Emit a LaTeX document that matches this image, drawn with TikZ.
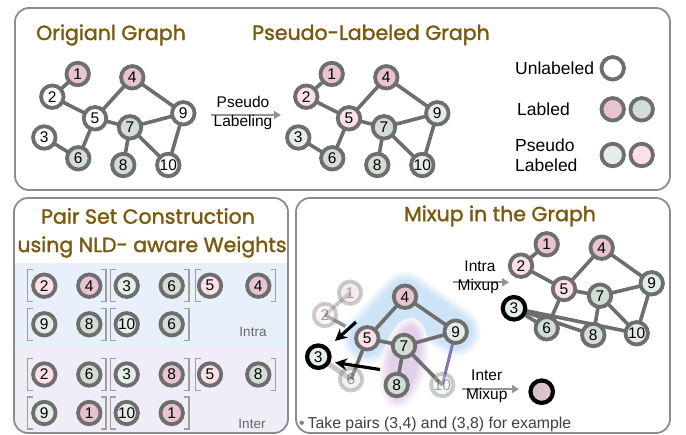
\documentclass[tikz,border=0pt]{standalone}
\usepackage{fontspec}
\setmainfont{Liberation Sans}
\newfontfamily\titlefont[FakeBold=1.6]{Poppins}
\usetikzlibrary{arrows.meta,calc}
\definecolor{nodeborder}{HTML}{6E6E6E}
\definecolor{lpink}{HTML}{E8C3D0}
\definecolor{lgreen}{HTML}{D2DDD5}
\definecolor{ppink}{HTML}{FBE0E7}
\definecolor{pgreen}{HTML}{E4EEE8}
\definecolor{titlebrown}{HTML}{7A5A0E}
\definecolor{panelborder}{HTML}{8C8C8C}
\definecolor{bluebg}{HTML}{E8F1FB}
\definecolor{purplebg}{HTML}{F0EDF8}
\definecolor{edgepurple}{HTML}{8B72B8}
\tikzset{
  gn/.style={circle, draw=nodeborder, line width=3.8pt, minimum size=22.5pt, inner sep=0pt,
    fill=white, text=black, font=\fontsize{15.5}{15.5}\selectfont},
  un/.style={gn},
  lp/.style={gn, fill=lpink},
  lg/.style={gn, fill=lgreen},
  pp/.style={gn, fill=ppink},
  pg/.style={gn, fill=pgreen},
  faded/.style={opacity=0.35},
  bold/.style={draw=black, line width=4.2pt},
  ge/.style={draw=nodeborder, line width=3.6pt},
  panel/.style={draw=panelborder, line width=1.8pt, rounded corners=14pt},
  ttl/.style={text=titlebrown, font=\titlefont\fontsize{20.5}{20.5}\selectfont, inner sep=0pt},
  lbl/.style={font=\fontsize{15.5}{15.5}\selectfont, inner sep=0pt},
  leg/.style={font=\fontsize{17.5}{17.5}\selectfont, inner sep=0pt, anchor=west},
  grayarrow/.style={draw=gray!85, line width=2pt, -{Triangle[length=7pt,width=8pt]}},
  blackarrow/.style={draw=black, line width=3.2pt, -{Stealth[length=12pt,width=12pt]}},
  bracket/.style={draw=gray!75, line width=1.4pt},
  smalllbl/.style={text=black!60, font=\fontsize{13.5}{13.5}\selectfont, inner sep=0pt},
  blob/.style={line cap=round, line join=round}
}
\begin{document}
\begin{tikzpicture}[x=1pt,y=-1pt]
\useasboundingbox (0,0) rectangle (686,435);
% ---------- panels ----------
\fill[white] (0,0) rectangle (686,435);
\draw[panel, fill=white] (15,8) rectangle (670,190);
\begin{scope}
  \clip[rounded corners=14pt] (14,198) rectangle (288,433);
  \fill[white] (14,198) rectangle (288,263);
  \fill[bluebg] (14,263) rectangle (288,348);
  \fill[purplebg] (14,348) rectangle (288,433);
\end{scope}
\draw[panel] (14,198) rectangle (288,433);
\draw[panel, fill=white] (296,198) rectangle (670,433);

% ---------- titles ----------
\node[ttl] (t1) at (111,35) {Origianl Graph};
\node[ttl] (t2) at (371,35) {Pseudo-Labeled Graph};
\node[ttl] (t3) at (148,216) {Pair Set Construction};
\node[ttl] (t4) at (152,247) {using NLD- aware Weights};
\node[ttl] (t5) at (500,216) {Mixup in the Graph};

% ---------- original graph ----------
\coordinate (ca1) at (77.7,74);
\coordinate (ca2) at (52.3,96.7);
\coordinate (ca3) at (44.3,137.5);
\coordinate (ca4) at (132.3,77.3);
\coordinate (ca5) at (95,118.3);
\coordinate (ca6) at (78.3,158.3);
\coordinate (ca7) at (130,127.3);
\coordinate (ca8) at (123.3,165);
\coordinate (ca9) at (183.3,113.3);
\coordinate (ca10) at (168.3,165);
\foreach \u/\v in {1/2,2/5,5/4,4/9,5/7,7/9,5/6,3/6,7/8,7/10,9/10}
  \draw[ge] (ca\u) -- (ca\v);
\node[lp] (a1) at (ca1) {1};
\node[un] (a2) at (ca2) {2};
\node[un] (a3) at (ca3) {3};
\node[lp] (a4) at (ca4) {4};
\node[un] (a5) at (ca5) {5};
\node[lg] (a6) at (ca6) {6};
\node[lg] (a7) at (ca7) {7};
\node[lg] (a8) at (ca8) {8};
\node[un] (a9) at (ca9) {9};
\node[un] (a10) at (ca10) {10};

% ---------- pseudo-labeled graph ----------
\coordinate (cb1) at (331.7,74);
\coordinate (cb2) at (306.3,96.7);
\coordinate (cb3) at (298.3,137.5);
\coordinate (cb4) at (386.3,77.3);
\coordinate (cb5) at (349,118.3);
\coordinate (cb6) at (332.3,158.3);
\coordinate (cb7) at (384,127.3);
\coordinate (cb8) at (377.3,165);
\coordinate (cb9) at (437.3,113.3);
\coordinate (cb10) at (422.3,165);
\foreach \u/\v in {1/2,2/5,5/4,4/9,5/7,7/9,5/6,3/6,7/8,7/10,9/10}
  \draw[ge] (cb\u) -- (cb\v);
\node[lp] (b1) at (cb1) {1};
\node[pp] (b2) at (cb2) {2};
\node[pg] (b3) at (cb3) {3};
\node[lp] (b4) at (cb4) {4};
\node[pp] (b5) at (cb5) {5};
\node[lg] (b6) at (cb6) {6};
\node[lg] (b7) at (cb7) {7};
\node[lg] (b8) at (cb8) {8};
\node[pg] (b9) at (cb9) {9};
\node[pg] (b10) at (cb10) {10};

% ---------- pseudo labeling arrow ----------
\coordinate (pl1) at (210.5,115);
\coordinate (pl2) at (281,115);
\draw[grayarrow] (pl1) -- (pl2);
\node[lbl] (plt1) at (243,102) {Pseudo};
\node[lbl] (plt2) at (243,122) {Labeling};

% ---------- legend ----------
\node[leg] (lg1) at (515,68) {Unlabeled};
\node[leg] (lg2) at (517,109) {Labled};
\node[leg] (lg3) at (515,145.5) {Pseudo};
\node[leg] (lg4) at (515,165.5) {Labeled};
\node[un] (lc1) at (612.7,68.3) {};
\node[lp] (lc2) at (612.7,109.3) {};
\node[lg] (lc3) at (641.7,109.3) {};
\node[pg] (lc4) at (612.7,155) {};
\node[pp] (lc5) at (641.7,155) {};

% ---------- pair set ----------
\node[pp] (p11) at (44.3,285.7) {2};
\node[lp] (p12) at (89.3,285.7) {4};
\node[pg] (p13) at (126.7,285.7) {3};
\node[lg] (p14) at (171.7,285.7) {6};
\node[pp] (p15) at (210,285.7) {5};
\node[lp] (p16) at (258.3,285.7) {4};
\node[pg] (p21) at (44.3,324.3) {9};
\node[lg] (p22) at (89.3,324.3) {8};
\node[pg] (p23) at (126.7,324.3) {10};
\node[lg] (p24) at (171.7,324.3) {6};
\node[smalllbl] (intra) at (253,332) {Intra};
\node[pp] (p31) at (44.3,374.5) {2};
\node[lg] (p32) at (89.3,374.5) {6};
\node[pg] (p33) at (126.7,374.5) {3};
\node[lp] (p34) at (171.7,374.5) {8};
\node[pp] (p35) at (210,374.5) {5};
\node[lg] (p36) at (258.3,374.5) {8};
\node[pg] (p41) at (44.3,413) {9};
\node[lp] (p42) at (89.3,413) {1};
\node[pg] (p43) at (126.7,413) {10};
\node[lp] (p44) at (171.7,413) {1};
\node[smalllbl] (inter) at (252,424) {Inter};
\foreach \y in {285.7,324.3,374.5,413} {
  \foreach \l/\r in {27.5/106,110.5/189} {
    \draw[bracket] (\l+5,\y-16) -- (\l,\y-16) -- (\l,\y+16) -- (\l+5,\y+16);
    \draw[bracket] (\r-5,\y-16) -- (\r,\y-16) -- (\r,\y+16) -- (\r-5,\y+16);
  }
}
\foreach \y in {285.7,374.5} {
  \draw[bracket] (200.5,\y-16) -- (195.5,\y-16) -- (195.5,\y+16) -- (200.5,\y+16);
  \draw[bracket] (270.5,\y-16) -- (275.5,\y-16) -- (275.5,\y+16) -- (270.5,\y+16);
}

% ---------- mixup: left graph ----------
\coordinate (m1) at (350,292.7);
\coordinate (m2) at (325,315);
\coordinate (m4) at (405,296.7);
\coordinate (m5) at (367.3,338.3);
\coordinate (m9) at (455.7,331.7);
\coordinate (m7) at (404,346);
\coordinate (m3) at (318.3,356.7);
\coordinate (m6) at (351,379.3);
\coordinate (m8) at (396.7,385);
\coordinate (m10) at (442.3,385);
% faded edges
\draw[ge, opacity=0.4] (m1) -- (m2);
\draw[ge, opacity=0.75] (m2) -- (m5);
\draw[ge, opacity=0.4, line width=5pt] (m3) -- (m6);
% blobs (soft edges by layering)
\foreach \w/\c in {50/F3F8FD,46/EAF3FB,42/E0EDF9,38/D6E7F7,34/CFE3F6} {
  \definecolor{blobtmp}{HTML}{\c}
  \draw[blob, line width=\w pt, draw=blobtmp] (m5) -- (m4) -- (m9);
}
\foreach \a/\b/\c in {23/46/F8F2FA,20/43/F0E6F4,17/40/E8DAEE,14/37/E2D0EA} {
  \definecolor{blobtmp}{HTML}{\c}
  \fill[blobtmp, rotate around={-12:(404,363)}] (404,363) ellipse [x radius=\a pt, y radius=\b pt];
}
% edges
\foreach \u/\v in {5/4,4/9,5/7,7/9,7/8,7/10,5/6}
  \draw[ge] (m\u) -- (m\v);
\draw[draw=edgepurple, line width=3pt] (m9) -- (m10);
% nodes
\node[lp, faded] (n1) at (m1) {1};
\node[pp, faded] (n2) at (m2) {2};
\node[lp] (n4) at (m4) {4};
\node[pp] (n5) at (m5) {5};
\node[pg] (n9) at (m9) {9};
\node[lg] (n7) at (m7) {7};
\node[pg, bold] (n3) at (m3) {3};
\node[lg, faded] (n6) at (m6) {6};
\node[lg] (n8) at (m8) {8};
\node[pg, faded] (n10) at (m10) {10};
% black arrows
\coordinate (k1s) at (356,322);
\coordinate (k1e) at (335,341);
\coordinate (k2s) at (380,369.5);
\coordinate (k2e) at (335,362.5);
\draw[blackarrow] (k1s) -- (k1e);
\draw[blackarrow] (k2s) -- (k2e);

% ---------- mixup arrows ----------
\coordinate (ia1) at (452.7,282.3);
\coordinate (ia2) at (509,282.3);
\draw[grayarrow] (ia1) -- (ia2);
\node[lbl] (it1) at (480,266.7) {Intra};
\node[lbl] (it2) at (478.3,286.7) {Mixup};
\coordinate (ea1) at (461.7,389);
\coordinate (ea2) at (519,389);
\draw[grayarrow] (ea1) -- (ea2);
\node[lbl] (et1) at (486.7,375) {Inter};
\node[lbl] (et2) at (486.7,395.7) {Mixup};
\node[gn, bold, left color=gray!45, right color=lpink] (res) at (541.7,391.7) {};

% ---------- mixup: right graph ----------
\coordinate (cr1) at (546.7,244.3);
\coordinate (cr2) at (521,265.7);
\coordinate (cr4) at (601.7,247.7);
\coordinate (cr5) at (564,289);
\coordinate (cr9) at (651.7,283.3);
\coordinate (cr7) at (600,295.7);
\coordinate (cr3) at (514,308.3);
\coordinate (cr6) at (546.7,328.3);
\coordinate (cr8) at (593.3,335);
\coordinate (cr10) at (636.7,333.3);
\foreach \u/\v in {1/2,2/5,5/4,4/9,5/7,7/9,5/6,7/8,7/10,9/10,3/6,3/8,3/10}
  \draw[ge] (cr\u) -- (cr\v);
\node[lp] (r1) at (cr1) {1};
\node[pp] (r2) at (cr2) {2};
\node[lp] (r4) at (cr4) {4};
\node[pp] (r5) at (cr5) {5};
\node[pg] (r9) at (cr9) {9};
\node[lg] (r7) at (cr7) {7};
\node[pg, bold] (r3) at (cr3) {3};
\node[lg] (r6) at (cr6) {6};
\node[lg] (r8) at (cr8) {8};
\node[pg] (r10) at (cr10) {10};

% ---------- note ----------
\node[anchor=west, inner sep=0pt, font=\fontsize{15.8}{15.8}\selectfont] (note) at (299,424)
  {\textcolor{gray}{\textbullet}\hspace{3pt}\textcolor{black!75}{Take pairs (3,4) and (3,8) for example}};
\end{tikzpicture}
\end{document}
